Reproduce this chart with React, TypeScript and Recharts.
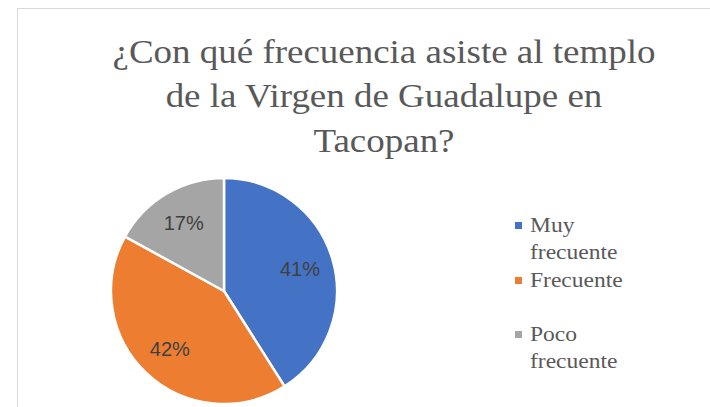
import { Cell, Pie, PieChart } from 'recharts'

const categories = ['Muy frecuente', 'Frecuente', 'Poco frecuente']
const shares = [41, 42, 17]
const colors = ['#4472C4', '#ED7D31', '#A5A5A5']
const titleLines = ['¿Con qué frecuencia asiste al templo', 'de la Virgen de Guadalupe en', 'Tacopan?']

const rows = categories.map((name, i) => ({ name, value: shares[i], fill: colors[i] }))

const RAD = Math.PI / 180
const SERIF = '"Liberation Serif"'

function SliceLabel(props: any) {
  const { cx, cy, midAngle, outerRadius, value } = props
  const r = outerRadius * 0.7
  const x = cx + r * Math.cos(-midAngle * RAD)
  const y = cy + r * Math.sin(-midAngle * RAD)
  return (
    <text
      x={x}
      y={y}
      fill="#404040"
      fontSize={20}
      fontFamily='"Liberation Sans", Arial, sans-serif'
      textAnchor="middle"
      dominantBaseline="central"
    >
      {value}%
    </text>
  )
}

// legend drawn by hand: two text lines per entry, like the Excel original
function LegendList() {
  return (
    <div
      style={{
        position: 'absolute',
        left: 515,
        top: 212.4,
        fontFamily: SERIF,
        fontSize: 21,
        lineHeight: '27px',
        color: '#595959',
      }}
    >
      {rows.map((row) => (
        <div key={row.name} style={{ position: 'relative', height: 54.5 }}>
          <span
            style={{ position: 'absolute', left: 0, top: 10, width: 7, height: 7, background: row.fill }}
          />
          <div
            style={{
              position: 'absolute',
              left: 15,
              top: 0,
              width: 100,
              fontFamily: SERIF,
              transform: 'scaleX(1.12)',
              transformOrigin: 'left top',
            }}
          >
            {row.name}
          </div>
        </div>
      ))}
    </div>
  )
}

export default function App() {
  return (
    <div
      style={{
        position: 'absolute',
        left: 0,
        top: 0,
        width: 710,
        height: 407,
        overflow: 'hidden',
        background: '#fff',
        fontFamily: SERIF,
      }}
    >
      <div
        style={{
          position: 'absolute',
          left: 17,
          top: 8,
          width: 800,
          height: 500,
          border: '1px solid #d9d9d9',
        }}
      />
      <div
        style={{
          position: 'absolute',
          left: 0,
          top: 29.6,
          width: 768,
          textAlign: 'center',
          fontFamily: SERIF,
          fontSize: 33,
          lineHeight: '44.5px',
          color: '#595959',
          transform: 'scaleX(1.12)',
          transformOrigin: 'center top',
          whiteSpace: 'nowrap',
        }}
      >
        {titleLines.map((line) => (
          <div key={line}>{line}</div>
        ))}
      </div>
      <div style={{ position: 'absolute', left: 0, top: 0 }}>
        <PieChart width={710} height={407} margin={{ top: 0, right: 0, bottom: 0, left: 0 }}>
          <Pie
            data={rows}
            dataKey="value"
            nameKey="name"
            cx={224}
            cy={291}
            outerRadius={113}
            startAngle={90}
            endAngle={-270}
            stroke="#fff"
            strokeWidth={2.5}
            label={SliceLabel}
            labelLine={false}
            isAnimationActive={false}
          >
            {rows.map((row) => (
              <Cell key={row.name} fill={row.fill} />
            ))}
          </Pie>
        </PieChart>
      </div>
      <LegendList />
    </div>
  )
}
